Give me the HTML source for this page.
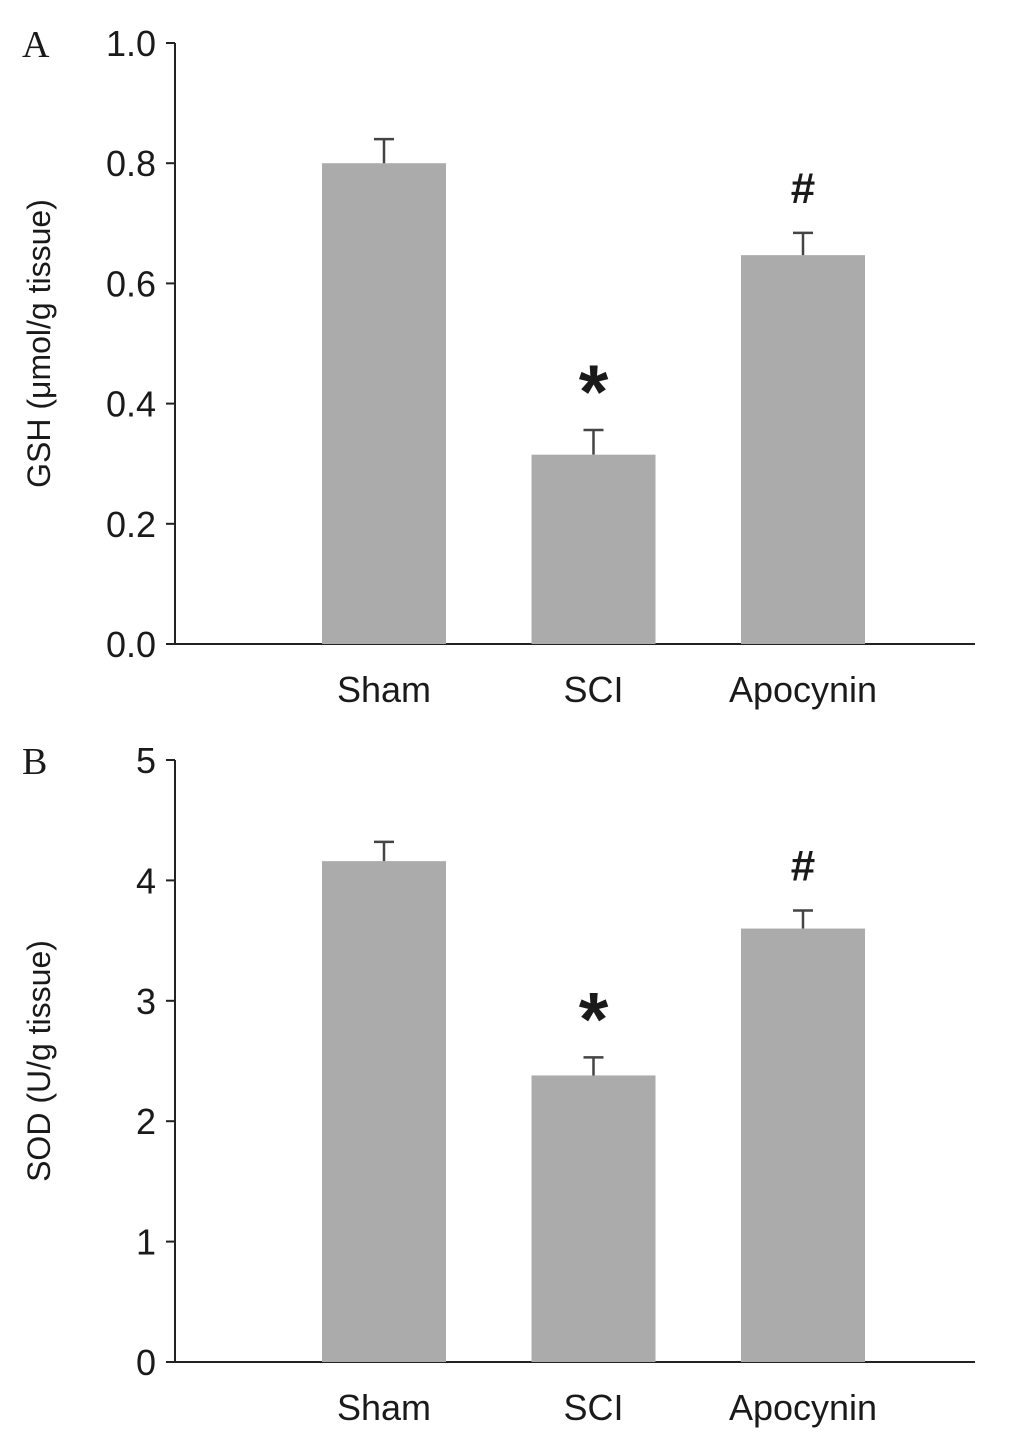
<!DOCTYPE html>
<html><head><meta charset="utf-8"><style>
body{margin:0;background:#fff}
svg text{font-family:"Liberation Sans",sans-serif;fill:#1a1a1a}
</style></head><body>
<svg width="1025" height="1441" xmlns="http://www.w3.org/2000/svg" id="chart"></svg>
<script>
const categories=["Sham","SCI","Apocynin"];
const gshValues=[0.80,0.315,0.647];
const gshErrors=[0.04,0.041,0.037];
const gshTicks=["0.0","0.2","0.4","0.6","0.8","1.0"];
const sodValues=[4.16,2.38,3.60];
const sodErrors=[0.16,0.15,0.15];
const sodTicks=["0","1","2","3","4","5"];
const marksA=["","*","#"];
const marksB=["","*","#"];
const NS="http://www.w3.org/2000/svg";
const svg=document.getElementById('chart');
function mk(t,a,p){const e=document.createElementNS(NS,t);for(const k in a)e.setAttribute(k,a[k]);(p||svg).appendChild(e);return e;}
function panel(cfg){
  const g=mk('g',{});
  
  
  const y=v=>cfg.y0-(v/cfg.max)*(cfg.y0-cfg.y1);
  const xc=i=>384+i*209.5;
  const ax=mk('line',{x1:175,y1:cfg.y1,x2:175,y2:cfg.y0,stroke:'#222','stroke-width':2},g);
  
  const bx=mk('line',{x1:175,y1:cfg.y0,x2:975,y2:cfg.y0,stroke:'#222','stroke-width':2},g);
  
  cfg.ticks.forEach((t,i)=>{
    const v=parseFloat(t);
    const tl=mk('line',{x1:166,y1:y(v),x2:175,y2:y(v),stroke:'#222','stroke-width':2},g);
    
    const tx=mk('text',{x:156,y:y(v)+13,'text-anchor':'end','font-size':36},g);tx.textContent=t;
    
  });
  cfg.values.forEach((v,i)=>{
    const top=y(v),et=y(v+cfg.errors[i]);
    const b=mk('rect',{x:xc(i)-62,y:top,width:124,height:cfg.y0-top,fill:'#ababab'},g);
    
    const e=mk('path',{d:`M${xc(i)},${top}V${et}M${xc(i)-10},${et}H${xc(i)+10}`,stroke:'#444','stroke-width':2.5,fill:'none'},g);
    
    if(cfg.marks[i]){
      const star=cfg.marks[i]=="*";
      const m=mk('text',{x:xc(i),y:star?et-12:et-30,'text-anchor':'middle','font-size':star?76:44,'font-weight':'bold'},g);
      m.textContent=cfg.marks[i];
      
    }
    const c=mk('text',{x:xc(i),y:cfg.y0+58,'text-anchor':'middle','font-size':36},g);c.textContent=categories[i];
    
  });
  const yt=mk('text',{x:0,y:0,'text-anchor':'middle','font-size':32,transform:`translate(50,${(cfg.y0+cfg.y1)/2}) rotate(-90)`},g);
  yt.textContent=cfg.title;
  const pl=mk('text',{x:22,y:cfg.y1+14,'font-size':38,style:'font-family:"Liberation Serif",serif'},g);
  pl.textContent=cfg.label;
}
panel({name:'panel-a-gsh',y0:644,y1:43,max:1.0,ticks:gshTicks,values:gshValues,errors:gshErrors,marks:marksA,title:'GSH (μmol/g tissue)',label:'A'});
panel({name:'panel-b-sod',y0:1362,y1:760,max:5,ticks:sodTicks,values:sodValues,errors:sodErrors,marks:marksB,title:'SOD (U/g  tissue)',label:'B'});
</script>
</body></html>
